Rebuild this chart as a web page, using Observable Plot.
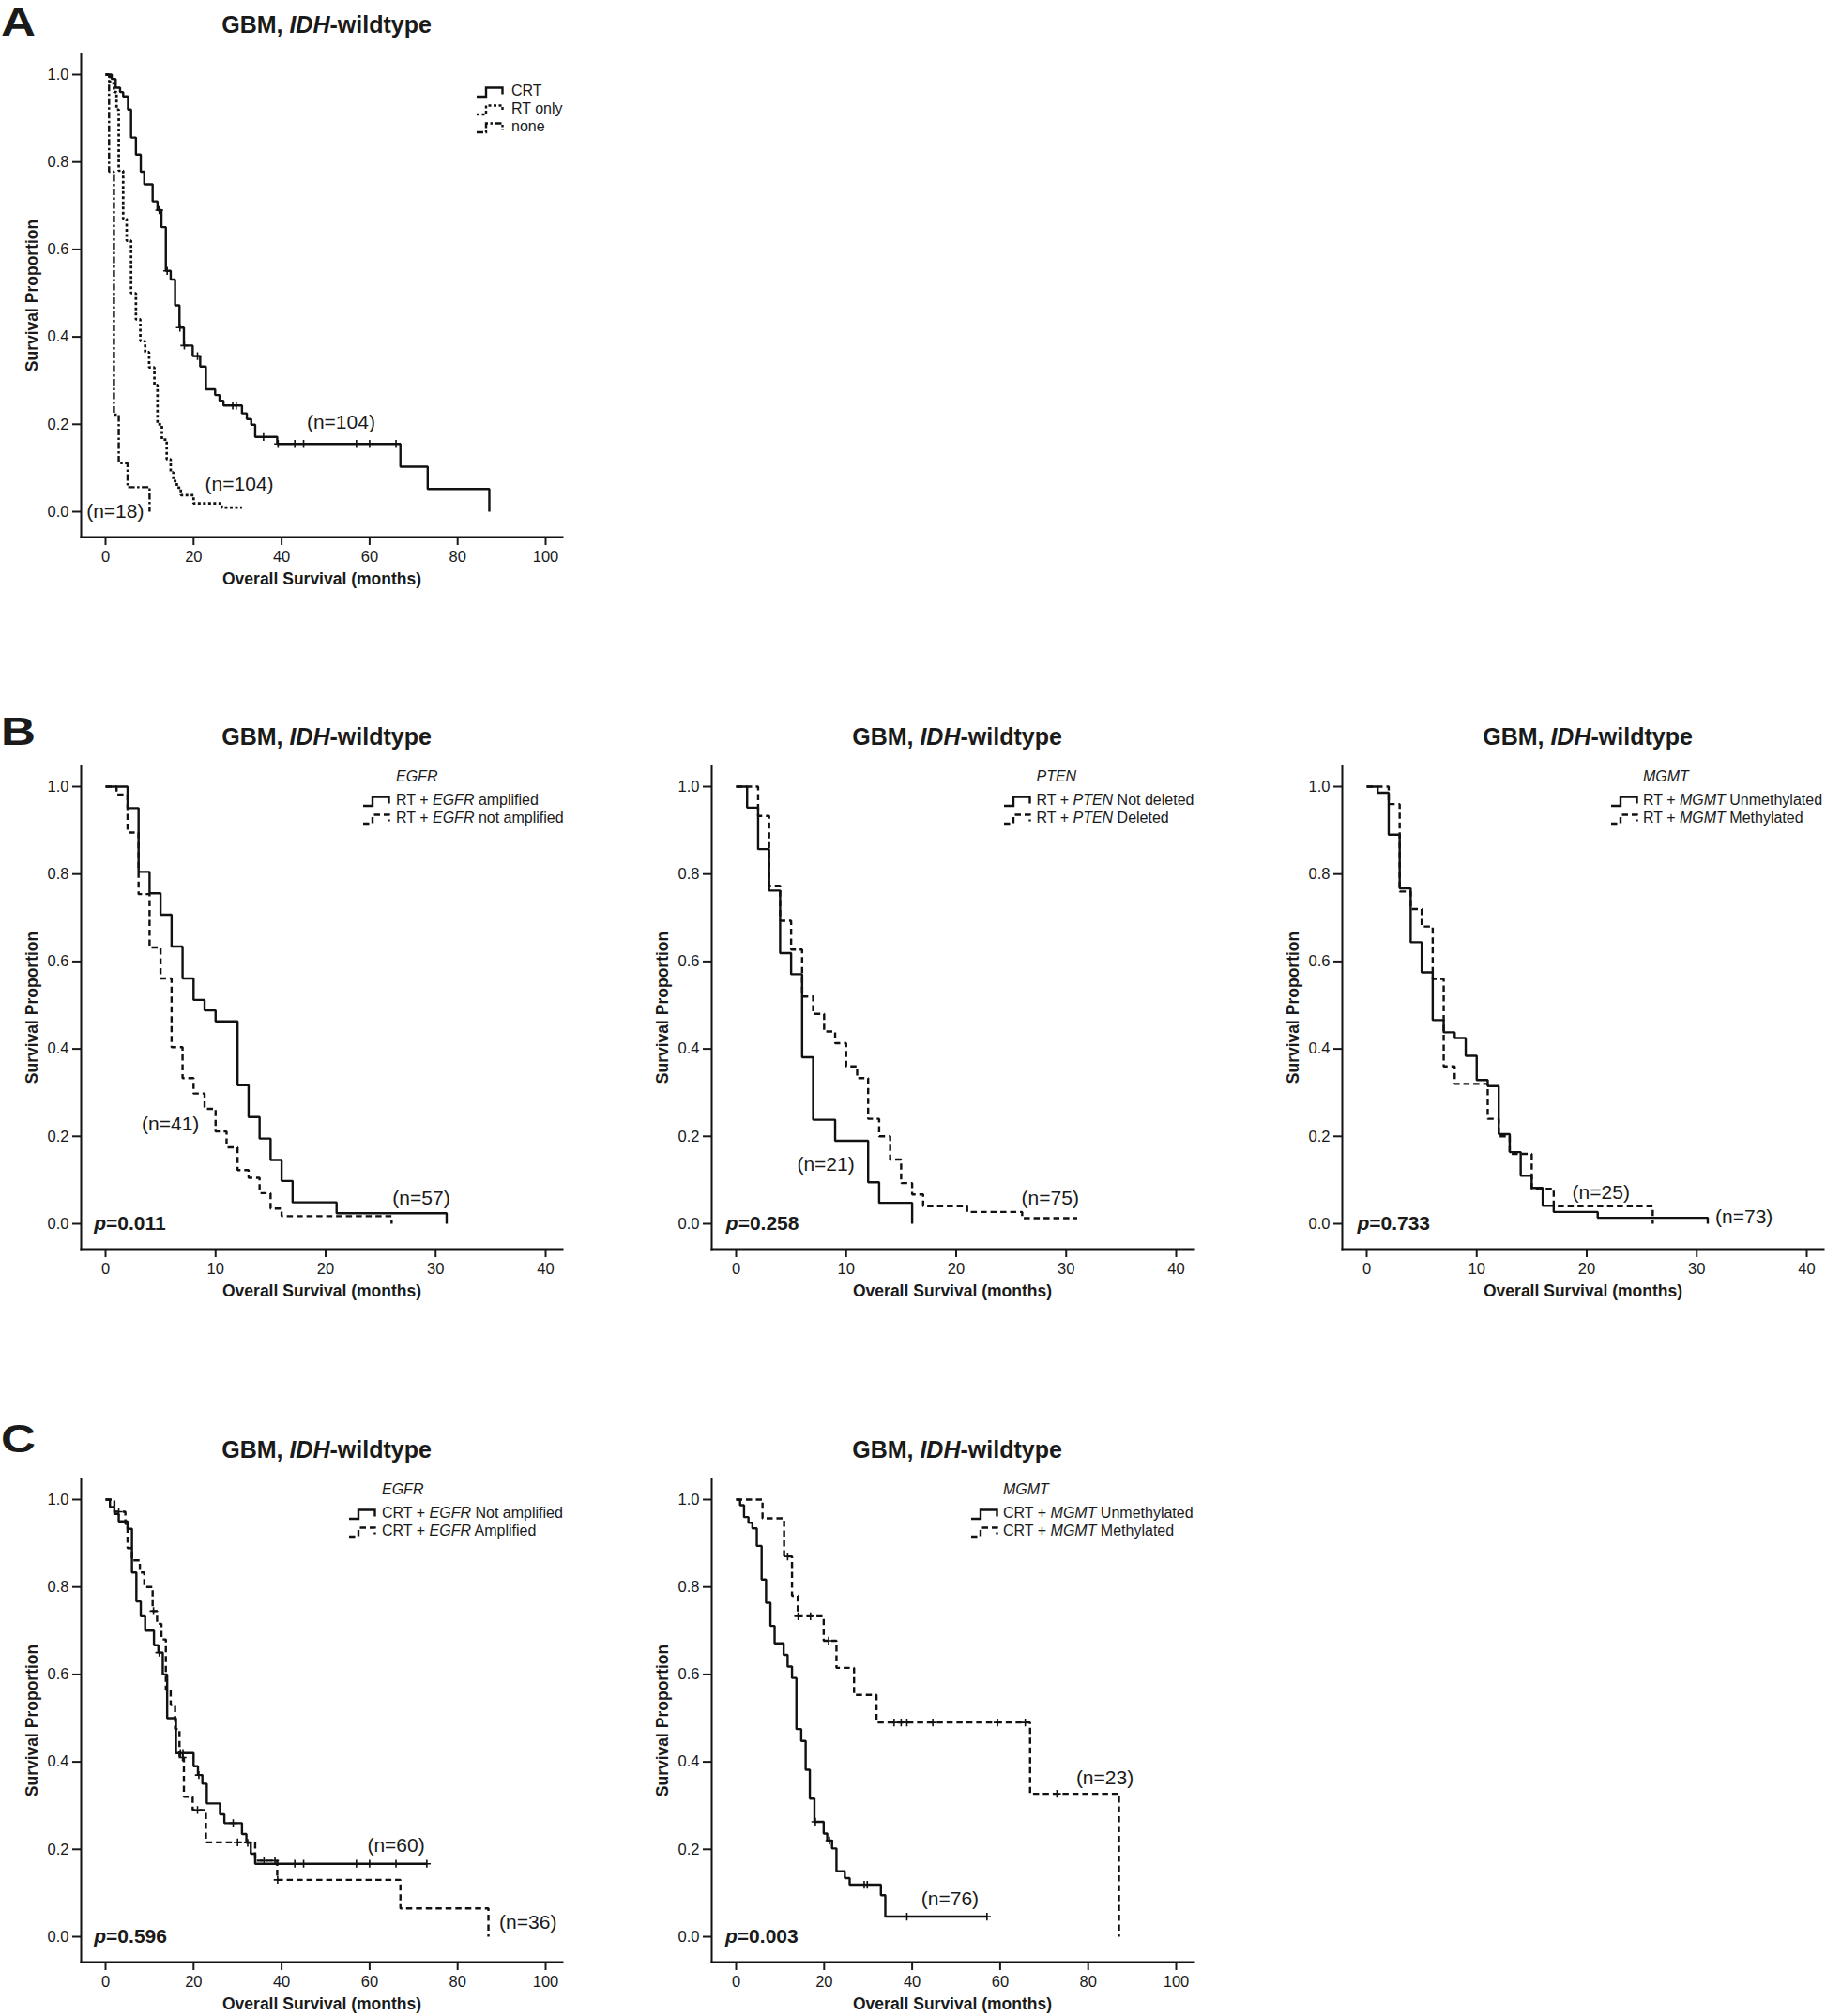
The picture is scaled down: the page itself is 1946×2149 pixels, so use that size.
<!DOCTYPE html>
<html><head><meta charset="utf-8">
<script src="https://cdn.jsdelivr.net/npm/d3@7"></script>
<script src="https://cdn.jsdelivr.net/npm/@observablehq/plot@0.6"></script>
<style>
body{margin:0;background:#fff;}
#page{position:relative;width:1946px;height:2149px;overflow:hidden;background:#fff;font-family:"Liberation Sans",Arial,Helvetica,sans-serif;color:#1a1a1a;}
.abs{position:absolute;white-space:nowrap;}
.title{font-weight:bold;font-size:25px;line-height:25px;transform:translateX(-50%);}
.letter{font-weight:bold;font-size:42px;line-height:42px;transform:scaleX(1.22);transform-origin:left top;}
.leg{font-size:16px;line-height:19px;}
svg g[aria-label="x-axis label"] text, svg g[aria-label="y-axis label"] text{font-weight:bold;font-size:17.5px;}
</style></head><body><div id="page"></div>
<script>
// ---------- tick values ----------
const xTicks100 = [0, 20, 40, 60, 80, 100];
const xTicks40 = [0, 10, 20, 30, 40];
const yTicks = [0, 0.2, 0.4, 0.6, 0.8, 1.0];

// ---------- Panel A: CRT / RT only / none ----------
const aCrtTime = [0, 1.4, 2.3, 3.3, 4.0, 5.1, 5.8, 6.9, 8.0, 8.8, 10.7, 11.8, 12.7, 13.7, 14.8, 15.8, 16.8, 17.8, 19.8, 21.5, 22.8, 24.9, 25.9, 26.8, 31.0, 32.1, 33.1, 34.0, 39.0, 67.0, 73.2, 87.2];
const aCrtSurv = [1, 0.99, 0.97, 0.96, 0.95, 0.92, 0.856, 0.817, 0.778, 0.749, 0.71, 0.69, 0.651, 0.551, 0.531, 0.472, 0.421, 0.38, 0.356, 0.332, 0.28, 0.267, 0.254, 0.243, 0.225, 0.212, 0.199, 0.171, 0.155, 0.103, 0.052, 0];
const aCrtCensor = [12.2, 14.0, 16.9, 17.9, 20.9, 28.9, 29.7, 35.9, 39.2, 43, 45, 57, 60, 66];
const aRtTime = [0, 1.0, 1.9, 2.5, 3.0, 4.0, 4.8, 5.8, 6.9, 7.9, 9.0, 9.9, 11.1, 11.8, 12.8, 13.9, 14.8, 15.4, 16.2, 17.1, 20.0, 26.4, 31.0];
const aRtSurv = [1, 0.98, 0.96, 0.92, 0.78, 0.67, 0.62, 0.50, 0.44, 0.39, 0.365, 0.33, 0.29, 0.20, 0.165, 0.12, 0.09, 0.07, 0.055, 0.038, 0.019, 0.0096, 0.0096];
const aNoneTime = [0, 0.8, 1.9, 3.0, 5.0, 10.0];
const aNoneSurv = [1, 0.778, 0.222, 0.111, 0.056, 0];
const aLabels = [
  {x: 53.5, y: 0.204, text: "(n=104)"},
  {x: 30.4, y: 0.062, text: "(n=104)"},
  {x: 2.2, y: 0.0, text: "(n=18)"}
];

// ---------- Panel B1: RT + EGFR ----------
const b1AmpTime = [0, 2, 3, 4, 5, 6, 7, 8, 9, 10, 12, 13, 14, 15, 16, 17, 21, 31];
const b1AmpSurv = [1, 0.951, 0.805, 0.756, 0.707, 0.634, 0.561, 0.512, 0.488, 0.463, 0.317, 0.244, 0.195, 0.146, 0.098, 0.049, 0.024, 0];
const b1NotTime = [0, 1, 2, 3, 4, 5, 6, 7, 8, 9, 10, 11, 12, 13, 14, 15, 16, 26];
const b1NotSurv = [1, 0.982, 0.895, 0.754, 0.632, 0.561, 0.404, 0.333, 0.298, 0.263, 0.211, 0.175, 0.123, 0.105, 0.070, 0.035, 0.0175, 0];
const b1Labels = [{x: 5.9, y: 0.227, text: "(n=41)"}, {x: 28.7, y: 0.058, text: "(n=57)"}];
const b1P = {x: -1.05, y: 0, text: "=0.011"};

// ---------- Panel B2: RT + PTEN ----------
const b2NotDelTime = [0, 1, 2, 3, 4, 5, 6, 7, 9, 12, 13, 16];
const b2NotDelSurv = [1, 0.952, 0.857, 0.762, 0.619, 0.571, 0.381, 0.238, 0.190, 0.095, 0.048, 0];
const b2DelTime = [0, 2, 3, 4, 5, 6, 7, 8, 9, 10, 11, 12, 13, 14, 15, 16, 17, 21, 26, 31];
const b2DelSurv = [1, 0.933, 0.773, 0.693, 0.627, 0.52, 0.48, 0.44, 0.413, 0.36, 0.333, 0.24, 0.20, 0.147, 0.093, 0.067, 0.04, 0.027, 0.013, 0.013];
const b2Labels = [{x: 8.15, y: 0.135, text: "(n=21)"}, {x: 28.55, y: 0.058, text: "(n=75)"}];
const b2P = {x: -0.91, y: 0, text: "=0.258"};

// ---------- Panel B3: RT + MGMT ----------
const b3UnmTime = [0, 1, 2, 3, 4, 5, 6, 7, 8, 9, 10, 11, 12, 13, 14, 15, 16, 17, 21, 31];
const b3UnmSurv = [1, 0.986, 0.890, 0.767, 0.644, 0.575, 0.466, 0.438, 0.425, 0.384, 0.329, 0.315, 0.205, 0.164, 0.110, 0.082, 0.041, 0.027, 0.0137, 0];
const b3MetTime = [0, 2, 3, 4, 5, 6, 7, 8, 11, 12, 13, 15, 17, 26];
const b3MetSurv = [1, 0.96, 0.76, 0.72, 0.68, 0.56, 0.36, 0.32, 0.24, 0.20, 0.16, 0.08, 0.04, 0];
const b3Labels = [{x: 21.3, y: 0.072, text: "(n=25)"}, {x: 34.3, y: 0.016, text: "(n=73)"}];
const b3P = {x: -0.86, y: 0, text: "=0.733"};

// ---------- Panel C1: CRT + EGFR ----------
const c1NotTime = [0, 1, 2, 3, 5, 6, 7, 8, 9, 11, 12, 13, 14, 16, 20, 21, 22, 23, 26, 27, 31, 32, 33, 34, 73];
const c1NotSurv = [1, 0.983, 0.967, 0.95, 0.933, 0.833, 0.767, 0.733, 0.70, 0.667, 0.65, 0.60, 0.50, 0.42, 0.39, 0.37, 0.35, 0.305, 0.28, 0.26, 0.235, 0.215, 0.19, 0.167, 0.167];
const c1NotCensor = [12.2, 17.0, 17.6, 21.2, 29.0, 32.3, 43, 45, 57, 60, 66, 73];
const c1AmpTime = [0, 2, 4.5, 5, 6, 7.8, 8.8, 10.7, 11.7, 12.7, 13.7, 14.8, 15.8, 16.8, 17.8, 19.8, 22.8, 34, 39, 67, 87];
const c1AmpSurv = [1, 0.972, 0.944, 0.889, 0.861, 0.833, 0.80, 0.745, 0.716, 0.68, 0.565, 0.53, 0.475, 0.41, 0.32, 0.29, 0.216, 0.174, 0.13, 0.065, 0];
const c1AmpCensor = [3.0, 10.9, 17.5, 20.9, 30.0, 36.0, 38.5, 39.1];
const c1Labels = [{x: 66.0, y: 0.209, text: "(n=60)"}, {x: 96.0, y: 0.033, text: "(n=36)"}];
const c1P = {x: -2.6, y: 0, text: "=0.596"};

// ---------- Panel C2: CRT + MGMT ----------
const c2UnmTime = [0, 0.9, 1.8, 2.8, 3.7, 4.7, 5.8, 6.8, 7.8, 8.75, 10.8, 11.7, 12.7, 13.7, 14.8, 15.8, 16.75, 17.8, 19.9, 20.7, 21.8, 22.8, 24.7, 25.8, 32.9, 33.9, 57];
const c2UnmSurv = [1, 0.987, 0.96, 0.947, 0.934, 0.894, 0.817, 0.764, 0.711, 0.671, 0.645, 0.618, 0.592, 0.475, 0.448, 0.382, 0.316, 0.263, 0.236, 0.22, 0.202, 0.15, 0.134, 0.119, 0.095, 0.046, 0.046];
const c2UnmCensor = [18.0, 21.2, 29.1, 29.8, 38.8, 57];
const c2MetTime = [0, 6.0, 10.9, 12.7, 14.0, 19.9, 22.8, 26.8, 31.9, 66.8, 87.0];
const c2MetSurv = [1, 0.957, 0.87, 0.78, 0.733, 0.677, 0.615, 0.553, 0.49, 0.327, 0];
const c2MetCensor = [11.7, 14.1, 16.9, 21.0, 35.9, 37.5, 38.8, 44.7, 59.4, 65.7, 72.9];
const c2Labels = [{x: 48.6, y: 0.086, text: "(n=76)"}, {x: 83.8, y: 0.364, text: "(n=23)"}];
const c2P = {x: -2.44, y: 0, text: "=0.003"};

// ---------- line styles ----------
const SOLID = null, DOTTED = "3,2.5", DASHDOT = "7,2.5,2.5,2.5", DASHED = "6.5,4";

const panels = [
  {letter: "A", letterBase: 39, X0: 86, top: 57, xMax: 100, xTicks: xTicks100,
   series: [
     {time: aCrtTime, surv: aCrtSurv, censor: aCrtCensor, dash: SOLID},
     {time: aRtTime, surv: aRtSurv, censor: [], dash: DOTTED},
     {time: aNoneTime, surv: aNoneSurv, censor: [], dash: DASHDOT}
   ],
   labels: aLabels, p: null,
   header: null, legend: [["CRT", SOLID], ["RT only", DOTTED], ["none", DASHDOT]],
   iconDx: 421, textDx: 459, rows: [45, 64, 83]},
  {letter: "B", letterBase: 795, X0: 86, top: 816, xMax: 40, xTicks: xTicks40,
   series: [
     {time: b1AmpTime, surv: b1AmpSurv, censor: [], dash: SOLID},
     {time: b1NotTime, surv: b1NotSurv, censor: [], dash: DASHED}
   ],
   labels: b1Labels, p: b1P,
   header: "EGFR", legend: [["RT + <i>EGFR</i> amplified", SOLID], ["RT + <i>EGFR</i> not amplified", DASHED]],
   iconDx: 300, textDx: 336, rows: [42, 61]},
  {letter: null, X0: 758, top: 816, xMax: 40, xTicks: xTicks40,
   series: [
     {time: b2NotDelTime, surv: b2NotDelSurv, censor: [], dash: SOLID},
     {time: b2DelTime, surv: b2DelSurv, censor: [], dash: DASHED}
   ],
   labels: b2Labels, p: b2P,
   header: "PTEN", legend: [["RT + <i>PTEN</i> Not deleted", SOLID], ["RT + <i>PTEN</i> Deleted", DASHED]],
   iconDx: 311, textDx: 346.5, rows: [42, 61]},
  {letter: null, X0: 1430, top: 816, xMax: 40, xTicks: xTicks40,
   series: [
     {time: b3UnmTime, surv: b3UnmSurv, censor: [], dash: SOLID},
     {time: b3MetTime, surv: b3MetSurv, censor: [], dash: DASHED}
   ],
   labels: b3Labels, p: b3P,
   header: "MGMT", legend: [["RT + <i>MGMT</i> Unmethylated", SOLID], ["RT + <i>MGMT</i> Methylated", DASHED]],
   iconDx: 286, textDx: 321, rows: [42, 61]},
  {letter: "C", letterBase: 1549, X0: 86, top: 1576, xMax: 100, xTicks: xTicks100,
   series: [
     {time: c1NotTime, surv: c1NotSurv, censor: c1NotCensor, dash: SOLID},
     {time: c1AmpTime, surv: c1AmpSurv, censor: c1AmpCensor, dash: DASHED}
   ],
   labels: c1Labels, p: c1P,
   header: "EGFR", legend: [["CRT + <i>EGFR</i> Not amplified", SOLID], ["CRT + <i>EGFR</i> Amplified", DASHED]],
   iconDx: 285, textDx: 321, rows: [42, 61]},
  {letter: null, X0: 758, top: 1576, xMax: 100, xTicks: xTicks100,
   series: [
     {time: c2UnmTime, surv: c2UnmSurv, censor: c2UnmCensor, dash: SOLID},
     {time: c2MetTime, surv: c2MetSurv, censor: c2MetCensor, dash: DASHED}
   ],
   labels: c2Labels, p: c2P,
   header: "MGMT", legend: [["CRT + <i>MGMT</i> Unmethylated", SOLID], ["CRT + <i>MGMT</i> Methylated", DASHED]],
   iconDx: 276, textDx: 311, rows: [42, 61]}
];

const INK = "#111";
const page = document.getElementById("page");
const ML = 86, MR = 14, MT = 10, MB = 64, FW = 513, FH = 515;

function stepValue(time, surv, t) {
  let v = surv[0];
  for (let i = 0; i < time.length; i++) if (time[i] <= t) v = surv[i];
  return v;
}

function addDiv(cls, left, top, html) {
  const d = document.createElement("div");
  d.className = "abs " + cls;
  d.style.left = left + "px";
  d.style.top = top + "px";
  d.innerHTML = html;
  page.appendChild(d);
  return d;
}

function icon(left, top, dash) {
  const ns = "http://www.w3.org/2000/svg";
  const s = document.createElementNS(ns, "svg");
  s.setAttribute("width", 32); s.setAttribute("height", 13);
  s.style.position = "absolute"; s.style.left = left + "px"; s.style.top = top + "px"; s.style.overflow = "visible";
  const p = document.createElementNS(ns, "path");
  p.setAttribute("d", "M1,11 H11 V1.5 H28.5 V8.5");
  p.setAttribute("fill", "none"); p.setAttribute("stroke", INK); p.setAttribute("stroke-width", 2.4);
  if (dash) p.setAttribute("stroke-dasharray", dash);
  s.appendChild(p);
  page.appendChild(s);
}

for (const cfg of panels) {
  const ppu = 469 / cfg.xMax;
  const marks = [
    Plot.axisY({ticks: yTicks, tickFormat: d3.format(".1f"), tickSize: 9, tickPadding: 4, strokeWidth: 2, fontSize: 16.5,
      label: "Survival Proportion", labelAnchor: "center", labelOffset: 59, labelArrow: "none"}),
    Plot.axisX({ticks: cfg.xTicks, tickSize: 9, tickPadding: 6, strokeWidth: 2, fontSize: 16.5,
      label: "Overall Survival (months)", labelAnchor: "center", labelOffset: 50, labelArrow: "none"}),
    Plot.frame({anchor: "left", stroke: INK, strokeWidth: 2}),
    Plot.frame({anchor: "bottom", stroke: INK, strokeWidth: 2})
  ];
  for (const s of cfg.series) {
    const data = s.time.map((t, i) => ({t, s: s.surv[i]}));
    marks.push(Plot.line(data, {x: "t", y: "s", curve: "step-after", stroke: INK, strokeWidth: s.dash === DOTTED ? 2.7 : 2.4,
      strokeDasharray: s.dash || undefined, strokeLinecap: "butt", strokeLinejoin: "miter"}));
    if (s.censor.length) {
      const cd = s.censor.map(t => ({t, s: stepValue(s.time, s.surv, t)}));
      marks.push(Plot.dot(cd, {x: "t", y: "s", symbol: "plus", r: 2.8, stroke: INK, strokeWidth: 1.6}));
    }
  }
  marks.push(Plot.text(cfg.labels, {x: "x", y: "y", text: "text", fontSize: 21, fill: "#1a1a1a", lineAnchor: "middle"}));
  if (cfg.p) {
    marks.push(Plot.text([cfg.p], {x: "x", y: "y", text: () => "p", fontSize: 21, fontWeight: "bold", fontStyle: "italic",
      textAnchor: "start", lineAnchor: "middle", fill: "#1a1a1a"}));
    marks.push(Plot.text([cfg.p], {x: "x", y: "y", text: "text", fontSize: 21, fontWeight: "bold",
      textAnchor: "start", lineAnchor: "middle", dx: 12.8, fill: "#1a1a1a"}));
  }
  const svg = Plot.plot({
    width: ML + FW + MR, height: MT + FH + MB,
    marginLeft: ML, marginRight: MR, marginTop: MT, marginBottom: MB,
    x: {domain: [-26 / ppu, (FW - 26) / ppu]},
    y: {domain: [-27 / 466, 1 + 22 / 466]},
    style: {fontFamily: '"Liberation Sans", Arial, sans-serif', fontSize: "16.5px", color: "#1a1a1a", background: "transparent", overflow: "visible"},
    marks
  });
  svg.style.position = "absolute";
  svg.style.left = (cfg.X0 - ML) + "px";
  svg.style.top = (cfg.top - MT) + "px";
  page.appendChild(svg);

  // title
  addDiv("title", cfg.X0 + 262, cfg.top - 22 - 21.2, "GBM, <i>IDH</i>-wildtype");
  // panel letter
  if (cfg.letter) addDiv("letter", 1, cfg.letterBase - 35.6, cfg.letter);
  // legend
  if (cfg.header) addDiv("leg", cfg.X0 + cfg.textDx, cfg.top + 17 - 15, "<i>" + cfg.header + "</i>");
  cfg.legend.forEach(([lab, dash], i) => {
    const base = cfg.top + cfg.rows[i];
    icon(cfg.X0 + cfg.iconDx, base - 10, dash);
    addDiv("leg", cfg.X0 + cfg.textDx, base - 15, lab);
  });
}
</script></body></html>
